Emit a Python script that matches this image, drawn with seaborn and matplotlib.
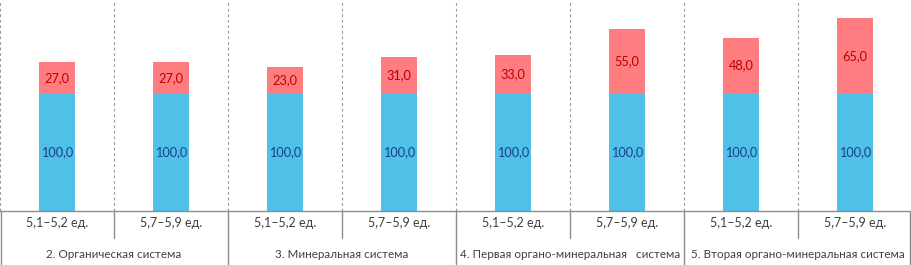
import pandas as pd
import matplotlib.pyplot as plt
import matplotlib.transforms as mtransforms
import seaborn as sns

sns.set_style("white")
plt.rcParams["font.family"] = ["Lato", "DejaVu Sans"]

# данные
sub_labels = ["5,1–5,2 ед.", "5,7–5,9 ед."] * 4
group_labels = ["2. Органическая система", "3. Минеральная система",
                "4. Первая органо-минеральная   система", "5. Вторая органо-минеральная система"]
base_vals = [100.0, 100.0, 100.0, 100.0, 100.0, 100.0, 100.0, 100.0]
add_vals = [27.0, 27.0, 23.0, 31.0, 33.0, 55.0, 48.0, 65.0]

df = pd.DataFrame({
    "pos": [str(i) for i in range(len(base_vals))],
    "base": base_vals,
    "add": add_vals,
})
df["total"] = df["base"] + df["add"]

fig = plt.figure(figsize=(9.12, 2.65), dpi=100)
ax = fig.add_axes([0, 0.2038, 1, 0.7962])

# красная часть (общая высота), сверху синяя база
sns.barplot(data=df, x="pos", y="total", color="#FF7C80", width=0.31,
            saturation=1, ax=ax, edgecolor="none")
sns.barplot(data=df, x="pos", y="base", color="#4FC0E8", width=0.31,
            saturation=1, ax=ax, edgecolor="none")

for i, row in df.iterrows():
    ax.text(i, row["base"] / 2, f"{row['base']:.1f}".replace(".", ","),
            ha="center", va="center", fontsize=9.2, color="#1B3F8B")
    ax.text(i, row["base"] + row["add"] / 2, f"{row['add']:.1f}".replace(".", ","),
            ha="center", va="center", fontsize=9.2, color="#C00000")

n = len(base_vals)
ax.set_xlim(-0.5, n - 0.5)
ax.set_ylim(0, 180)
ax.set_yticks([])
ax.set_ylabel("")
ax.set_xlabel("")
for s in ax.spines.values():
    s.set_visible(False)

# пунктирные разделители
for b in [i - 0.5 for i in range(n + 1)]:
    ax.axvline(b, color="#999999", lw=0.8, ls=(0, (2.5, 2.5)), zorder=0)

# таблица подписей под осью
trans = mtransforms.blended_transform_factory(ax.transData, ax.transAxes)
ax.plot([-0.5, n - 0.5], [0, 0], transform=trans, color="#8C8C8C", lw=1, clip_on=False)
for b in [0.5, 2.5, 4.5, 6.5]:
    ax.plot([b, b], [0, -0.13], transform=trans, color="#8C8C8C", lw=1, clip_on=False)
for b in [-0.5, 1.5, 3.5, 5.5, 7.5]:
    x = b
    if b == -0.5:
        x = -0.495
    if b == 7.5:
        x = 7.485
    ax.plot([x, x], [0, -0.26], transform=trans, color="#8C8C8C", lw=1, clip_on=False)

ax.set_xticks(range(n))
ax.set_xticklabels([])
ax.tick_params(axis="x", length=0)
for i, lab in enumerate(sub_labels):
    ax.text(i, -0.057, lab, transform=trans, ha="center", va="center",
            fontsize=9, color="#404040")
for g, lab in enumerate(group_labels):
    ax.text(2 * g + 0.5, -0.208, lab, transform=trans, ha="center", va="center",
            fontsize=8.4, color="#404040")

fig.savefig("out.png", dpi=100)
